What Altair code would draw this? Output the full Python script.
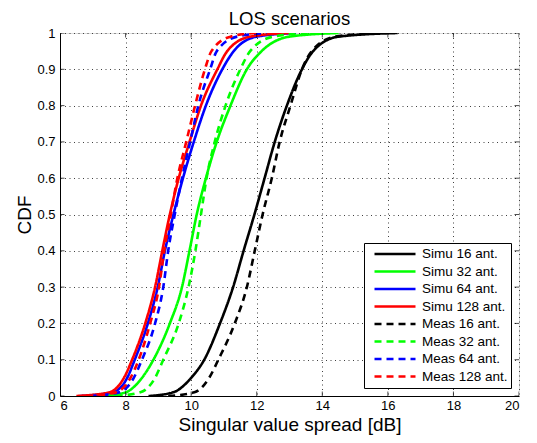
import altair as alt
import pandas as pd

levels = [0, 0.01, 0.05, 0.1, 0.2, 0.3, 0.4, 0.5, 0.6, 0.7, 0.8, 0.9, 0.95, 0.99, 1]

series_names = ["Simu 16 ant.", "Simu 32 ant.", "Simu 64 ant.", "Simu 128 ant.",
                "Meas 16 ant.", "Meas 32 ant.", "Meas 64 ant.", "Meas 128 ant."]

simu16 = [8.7, 9.45, 10.0, 10.4, 10.88, 11.28, 11.6, 11.93, 12.24, 12.55, 12.92, 13.38, 13.72, 14.5, 16.3]
simu32 = [7.3, 8.0, 8.5, 8.85, 9.35, 9.72, 9.95, 10.17, 10.45, 10.78, 11.2, 11.7, 12.15, 13.0, 14.5]
simu64 = [6.6, 7.6, 8.05, 8.28, 8.68, 8.98, 9.2, 9.46, 9.75, 10.08, 10.45, 10.95, 11.3, 12.0, 13.2]
simu128 = [6.5, 7.5, 7.95, 8.2, 8.6, 8.9, 9.12, 9.35, 9.62, 9.95, 10.3, 10.8, 11.1, 11.8, 13.0]
meas16 = [9.3, 10.1, 10.55, 10.83, 11.33, 11.7, 11.94, 12.18, 12.46, 12.7, 13.03, 13.38, 13.68, 14.4, 15.8]
meas32 = [7.7, 8.45, 8.9, 9.15, 9.62, 9.92, 10.13, 10.3, 10.47, 10.72, 11.05, 11.5, 11.8, 12.5, 13.6]
meas64 = [6.9, 7.8, 8.25, 8.5, 8.9, 9.15, 9.3, 9.5, 9.72, 9.97, 10.22, 10.58, 10.78, 11.4, 12.3]
meas128 = [6.8, 7.7, 8.15, 8.4, 8.75, 9.02, 9.18, 9.38, 9.58, 9.85, 10.12, 10.42, 10.62, 11.2, 12.0]

series_values = [simu16, simu32, simu64, simu128, meas16, meas32, meas64, meas128]

x_ticks = [6, 8, 10, 12, 14, 16, 18, 20]
y_ticks = [0, 0.1, 0.2, 0.3, 0.4, 0.5, 0.6, 0.7, 0.8, 0.9, 1]

title_text = ["LOS scenarios"]

colors = ["#000000", "#00ff00", "#0000ff", "#ff0000",
          "#000000", "#00ff00", "#0000ff", "#ff0000"]
dashes = [[1, 0], [1, 0], [1, 0], [1, 0], [7, 5], [7, 5], [7, 5], [7, 5]]

rows = []
for name, xs in zip(series_names, series_values):
    for xv, yv in zip(xs, levels):
        rows.append({"series": name, "spread": xv, "cdf": yv})
df = pd.DataFrame(rows)

FONT = "Liberation Sans"
W, H = 459, 363

x_scale = alt.Scale(domain=[6, 20], nice=False, zero=False)
y_scale = alt.Scale(domain=[0, 1], nice=False, zero=False)

x_axis = alt.Axis(values=x_ticks, format="d", title="Singular value spread [dB]",
                  ticks=False, labelPadding=3, labelFontSize=13, labelFont=FONT,
                  labelColor="black", labelOverlap=False, titleFont=FONT, titleFontSize=19,
                  titleFontWeight="normal", titleColor="black",
                  titleBaseline="alphabetic", titleX=W / 2, titleY=34,
                  titleAlign="center", grid=True, gridColor="#404040",
                  gridDash=[1, 3.5], gridWidth=1, domainColor="black")
y_axis = alt.Axis(values=y_ticks, format="~g", title="CDF",
                  ticks=False, labelPadding=5, labelFontSize=13, labelFont=FONT,
                  labelColor="black", labelOverlap=False, titleFont=FONT, titleFontSize=19,
                  titleFontWeight="normal", titleColor="black",
                  titleBaseline="alphabetic", titleAngle=270, titleX=-30,
                  titleY=H / 2, titleAlign="center", grid=True, gridColor="#404040",
                  gridDash=[1, 3.5], gridWidth=1, domainColor="black")

x_enc = alt.X("spread:Q", scale=x_scale, axis=x_axis)
y_enc = alt.Y("cdf:Q", scale=y_scale, axis=y_axis)

legend = alt.Legend(title=None, orient="bottom-right", offset=8, symbolType="stroke",
                    symbolSize=1681, symbolStrokeWidth=2.5, labelFontSize=13.5,
                    labelFont=FONT, labelColor="black", strokeColor="black",
                    fillColor="white", padding=3, clipHeight=16, rowPadding=1.5,
                    labelOffset=5, symbolOffset=6, cornerRadius=0, labelLimit=300)

lines = alt.Chart(df).mark_line(strokeWidth=2.6, interpolate="monotone", clip=True).encode(
    x=x_enc,
    y=y_enc,
    color=alt.Color("series:N", scale=alt.Scale(domain=series_names, range=colors), legend=legend),
    strokeDash=alt.StrokeDash("series:N", scale=alt.Scale(domain=series_names, range=dashes), legend=legend),
)

xt_df = pd.DataFrame({"spread": x_ticks})
yt_df = pd.DataFrame({"cdf": y_ticks})

tick_style = dict(size=9, thickness=1, color="black", clip=True)
xt_bottom = alt.Chart(xt_df).mark_tick(orient="vertical", **tick_style).encode(
    x=x_enc, y=alt.YDatum(0, type="quantitative", scale=y_scale, axis=y_axis))
xt_top = alt.Chart(xt_df).mark_tick(orient="vertical", **tick_style).encode(
    x=x_enc, y=alt.YDatum(1, type="quantitative", scale=y_scale, axis=y_axis))
yt_left = alt.Chart(yt_df).mark_tick(orient="horizontal", **tick_style).encode(
    y=y_enc, x=alt.XDatum(6, type="quantitative", scale=x_scale, axis=x_axis))
yt_right = alt.Chart(yt_df).mark_tick(orient="horizontal", **tick_style).encode(
    y=y_enc, x=alt.XDatum(20, type="quantitative", scale=x_scale, axis=x_axis))

title_layer = alt.Chart(pd.DataFrame({"t": title_text})).mark_text(
    font=FONT, fontSize=18.5, baseline="alphabetic", align="center", color="black"
).encode(x=alt.value(W / 2), y=alt.value(-8), text="t:N")

chart = alt.layer(lines, xt_bottom, xt_top, yt_left, yt_right, title_layer).properties(
    width=W, height=H,
    autosize=alt.AutoSizeParams(type="none"),
    padding={"left": 52, "top": 25, "right": 10, "bottom": 39},
).configure_view(stroke="black", strokeWidth=1).configure(background="white")

chart.save("out.html", embed_options={"renderer": "svg", "actions": False})
